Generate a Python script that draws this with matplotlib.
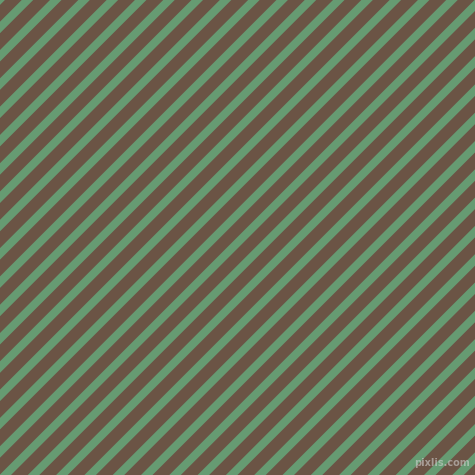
import numpy as np
import matplotlib
matplotlib.use("Agg")
import matplotlib.pyplot as plt

# pattern (pixels)
size = 475
period = 28.3          # horizontal distance between green stripes
green_width = 11.5     # horizontal width of a green stripe
phase = 9.5            # where the first green stripe starts on the top edge
brown = "#6b5445"
green = "#669b72"
watermark = "pixlis.com"


def stripe_starts():
    return np.arange(phase - 2 * size, 2 * size, period)


def main():
    fig = plt.figure(figsize=(size / 100, size / 100), dpi=100)
    ax = fig.add_axes([0, 0, 1, 1])
    ax.set_xlim(0, size)
    ax.set_ylim(size, 0)
    ax.set_facecolor(brown)
    ax.axis("off")
    fig.patch.set_facecolor(brown)

    L = 2 * size
    for c in stripe_starts():
        xs = [c, c + green_width, c + green_width - L, c - L]
        ys = [0, 0, L, L]
        ax.fill(xs, ys, color=green, lw=0)

    ax.text(470, 468, watermark, ha="right", va="bottom", fontsize=7,
            color="#d8d8d8", alpha=0.55, fontweight="bold")
    fig.savefig("out.png", dpi=100, facecolor=brown)


main()
